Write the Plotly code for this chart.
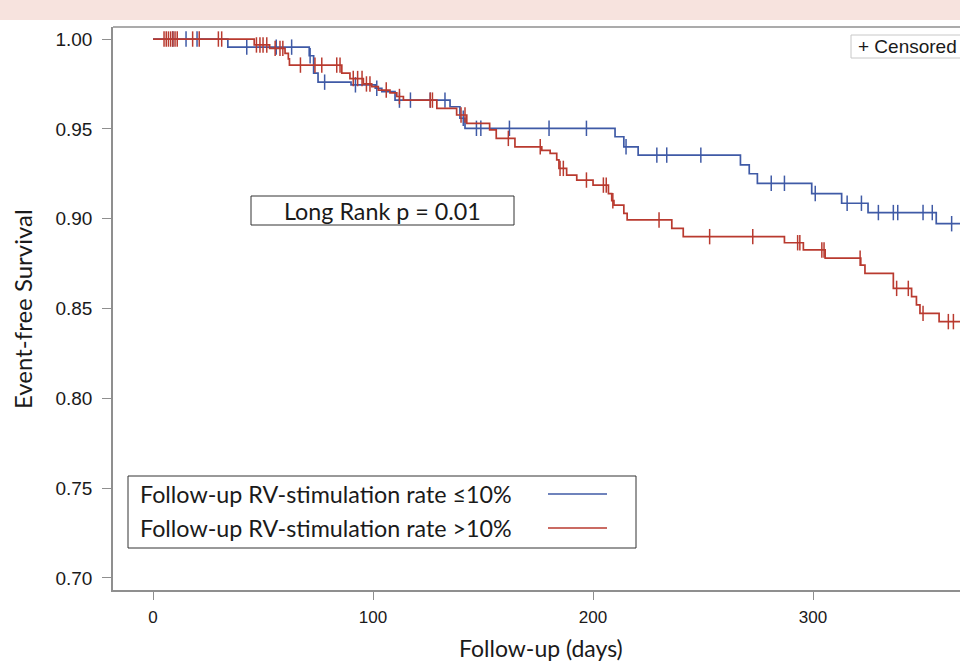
import numpy as np
import plotly.graph_objects as go

# ---- data ----
blue_times = [0, 34, 71, 73, 75, 90, 101, 104, 110, 135, 139.5, 141.8, 210, 214, 220.5,
              267, 271, 274.7, 299.4, 313, 325, 356, 367]
blue_surv = [1.0, 0.9955, 0.9907, 0.981, 0.976, 0.9745, 0.9726, 0.9707, 0.966, 0.9623, 0.9559,
             0.9503, 0.9456, 0.940, 0.9354, 0.930, 0.925, 0.9197, 0.914, 0.9086, 0.9034,
             0.8972, 0.8972]
blue_censor = [9, 15, 20, 42.6, 56, 63, 71.4, 78, 92, 101.7, 112, 117, 126, 132.7, 141,
               147, 149, 162, 180, 197, 215, 229, 233.5, 249, 281, 287, 301, 315.5, 322,
               329.7, 336.5, 338.5, 350, 354.2, 363]

red_times = [0, 46, 53, 60, 61.5, 62, 85.8, 89.5, 95.6, 99.4, 102.4, 107.7, 110.8, 113.8,
             129, 138, 142.6, 153, 156, 164.5, 176.7, 180.5, 183.5, 184.5, 188, 192.6, 200,
             207, 208.5, 209.5, 214, 215.5, 235.8, 241, 287, 295.6, 305.5, 321.7, 323.6,
             336.5, 344.8, 347, 348.6, 357.3, 367]
red_surv = [1.0, 0.9967, 0.9948, 0.992, 0.989, 0.9855, 0.981, 0.978, 0.975, 0.9735, 0.9716,
            0.970, 0.968, 0.966, 0.9614, 0.9577, 0.953, 0.9494, 0.9447, 0.940, 0.938, 0.9364,
            0.9327, 0.928, 0.9243, 0.9215, 0.9187, 0.914, 0.910, 0.9076, 0.903, 0.8993,
            0.8946, 0.890, 0.8866, 0.8826, 0.878, 0.8742, 0.8696, 0.8612, 0.8566, 0.852,
            0.8473, 0.8427, 0.8427]
red_censor = [5, 6, 7, 8, 9, 10, 11, 18, 21, 29.7, 31.2, 47, 48.6, 50, 51.7, 55.5, 57.7, 59,
              67, 73.6, 76.7, 83.5, 85, 91, 93, 95, 97, 98.6, 106, 112, 126, 127, 140, 141.8,
              161.5, 176, 185, 186.5, 197, 204.7, 206, 209, 230, 253, 272.6, 293, 294, 304,
              305, 321.4, 338, 343.3, 350, 361.5, 363.8]

series_names = ["Follow-up RV-stimulation rate \u226410%", "Follow-up RV-stimulation rate >10%"]
x_ticks = [0, 100, 200, 300]
y_ticks = [0.70, 0.75, 0.80, 0.85, 0.90, 0.95, 1.00]
pvalue_text = "Long Rank p = 0.01"

BLUE = "#3f5aa6"
RED = "#b93a2f"
FRAME = "#8f8f8f"
TXT = "#1a1a1a"


def surv_at(times, surv, t):
    idx = np.searchsorted(np.asarray(times), np.asarray(t), side="right") - 1
    return np.asarray(surv)[idx]


fig = go.Figure()
for times, surv, cens, col, nm in [
    (blue_times, blue_surv, blue_censor, BLUE, series_names[0]),
    (red_times, red_surv, red_censor, RED, series_names[1]),
]:
    fig.add_trace(go.Scatter(x=times, y=surv, mode="lines", line=dict(color=col, width=1.7, shape="hv"),
                             name=nm, showlegend=False, hoverinfo="skip"))
    fig.add_trace(go.Scatter(x=cens, y=surv_at(times, surv, cens), mode="markers",
                             marker=dict(symbol="line-ns", size=11, line=dict(color=col, width=1.5)),
                             showlegend=False, hoverinfo="skip"))

# layout geometry (pixels)
W, H = 960, 663
ML, MR, MT, MB = 113, 0, 27, 73
PW, PH = W - ML - MR, H - MT - MB


def px(xp):
    return (xp - ML) / PW


def py(yp):
    return (H - MB - yp) / PH


font_main = "Lato, 'Open Sans', sans-serif"
font_tick = "'Liberation Sans', Arial, sans-serif"

shapes = [
    # pink band at very top
    dict(type="rect", xref="paper", yref="paper", x0=px(-5), x1=px(970), y0=py(20), y1=py(-5),
         fillcolor="#f7e3de", line=dict(width=0), layer="below"),
    # top frame line
    dict(type="line", xref="paper", yref="paper", x0=0, x1=px(965), y0=1, y1=1,
         line=dict(color=FRAME, width=1.5)),
    # p-value box
    dict(type="rect", xref="paper", yref="paper", x0=px(251), x1=px(514), y0=py(225), y1=py(196),
         line=dict(color="#333333", width=1), fillcolor="white"),
    # legend box
    dict(type="rect", xref="paper", yref="paper", x0=px(128), x1=px(636), y0=py(548), y1=py(476),
         line=dict(color="#333333", width=1), fillcolor="white"),
    # legend samples
    dict(type="line", xref="paper", yref="paper", x0=px(548), x1=px(607), y0=py(494), y1=py(494),
         line=dict(color=BLUE, width=1.6)),
    dict(type="line", xref="paper", yref="paper", x0=px(548), x1=px(607), y0=py(528), y1=py(528),
         line=dict(color=RED, width=1.6)),
    # censored box
    dict(type="rect", xref="paper", yref="paper", x0=px(851), x1=px(975), y0=py(58), y1=py(35),
         line=dict(color="#c8c8c8", width=1), fillcolor="white"),
]

annotations = [
    dict(text=pvalue_text, xref="paper", yref="paper", x=px(382), y=py(211), showarrow=False,
         xanchor="center", yanchor="middle", font=dict(family=font_main, size=23.3, color=TXT)),
    dict(text=series_names[0], xref="paper", yref="paper", x=px(138), y=py(494), showarrow=False,
         xanchor="left", yanchor="middle", font=dict(family=font_main, size=23.3, color=TXT)),
    dict(text=series_names[1], xref="paper", yref="paper", x=px(138), y=py(528), showarrow=False,
         xanchor="left", yanchor="middle", font=dict(family=font_main, size=23.3, color=TXT)),
    dict(text="+ Censored", xref="paper", yref="paper", x=px(856), y=py(47), showarrow=False,
         xanchor="left", yanchor="middle", font=dict(family=font_tick, size=19, color=TXT)),
    dict(text="Event-free Survival", xref="paper", yref="paper", x=px(22), y=py(309), showarrow=False,
         textangle=-90, xanchor="center", yanchor="middle",
         font=dict(family=font_main, size=24, color=TXT)),
    dict(text="Follow-up (days)", xref="paper", yref="paper", x=px(541), y=py(648), showarrow=False,
         xanchor="center", yanchor="middle", font=dict(family=font_main, size=23, color=TXT)),
]

fig.update_layout(
    width=W, height=H,
    margin=dict(l=ML, r=MR, t=MT, b=MB, pad=0),
    paper_bgcolor="white", plot_bgcolor="white",
    shapes=shapes, annotations=annotations, showlegend=False,
    xaxis=dict(range=[-18.2, 366.8], tickvals=x_ticks, ticktext=[str(v) for v in x_ticks],
               showgrid=False, zeroline=False, showline=True, linecolor=FRAME, linewidth=1.5,
               ticks="outside", ticklen=8, tickcolor=FRAME, tickwidth=1, ticklabelstandoff=3,
               tickfont=dict(family=font_tick, size=17, color=TXT)),
    yaxis=dict(range=[0.6933, 1.0067], tickvals=y_ticks, ticktext=[f"{v:.2f}" for v in y_ticks],
               showgrid=False, zeroline=False, showline=True, linecolor=FRAME, linewidth=1.5,
               ticks="outside", ticklen=9, tickcolor=FRAME, tickwidth=1, ticklabelstandoff=6,
               tickfont=dict(family=font_tick, size=19, color=TXT)),
)

fig.write_html("out.html", config={"displayModeBar": False},
               post_script="document.body.style.margin='0';document.body.style.overflow='hidden';")
